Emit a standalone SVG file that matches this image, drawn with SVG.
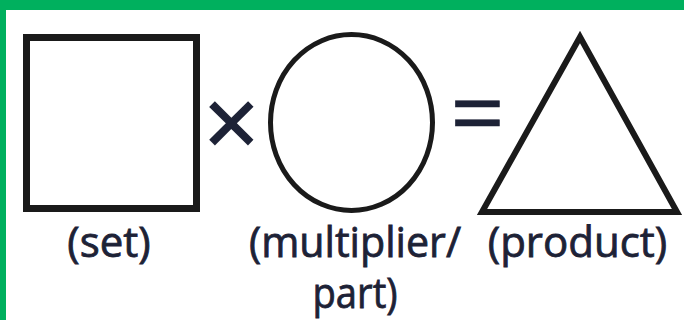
<svg xmlns="http://www.w3.org/2000/svg" width="684" height="320" viewBox="0 0 684 320">
<style>
.shape{fill:none;stroke:#1a1a1a;stroke-linejoin:miter}
.lbl{font-family:"Open Sans","Noto Sans",sans-serif;font-size:42px;fill:#1d2236;stroke:#1d2236;stroke-width:0.8;text-anchor:middle}
.op{font-family:"Open Sans","Noto Sans",sans-serif;font-size:96px;fill:#1d2236;stroke:#1d2236;text-anchor:middle}
</style>
<rect x="0" y="0" width="684" height="320" fill="#ffffff"/>
<rect x="0" y="0" width="684" height="10" fill="#00b05e"/>
<rect x="0" y="0" width="6" height="320" fill="#00b05e"/>
<g id="set">
<rect class="shape" x="26.5" y="37.5" width="170" height="171" stroke-width="7" stroke="#222222"/>
<text class="lbl" x="109" y="257">(set)</text>
</g>
<g id="times">
<text class="op" x="231.5" y="157" stroke-width="1.5">×</text>
</g>
<g id="multiplier">
<ellipse class="shape" cx="351.5" cy="122.5" rx="81" ry="88" stroke-width="5"/>
<text class="lbl" x="355" y="257" font-size="36" stroke-width="0.9" textLength="212" lengthAdjust="spacingAndGlyphs">(multiplier/</text>
<text class="lbl" x="355" y="308" font-size="36" stroke-width="0.9" textLength="85" lengthAdjust="spacingAndGlyphs">part)</text>
</g>
<g id="equals">
<text class="op" x="477.5" y="147" stroke-width="0.6">=</text>
</g>
<g id="product">
<polygon class="shape" points="580,37 482,212 677,212" stroke-width="6"/>
<text class="lbl" x="577.5" y="257">(product)</text>
</g>
<g id="connectors"></g>
</svg>
